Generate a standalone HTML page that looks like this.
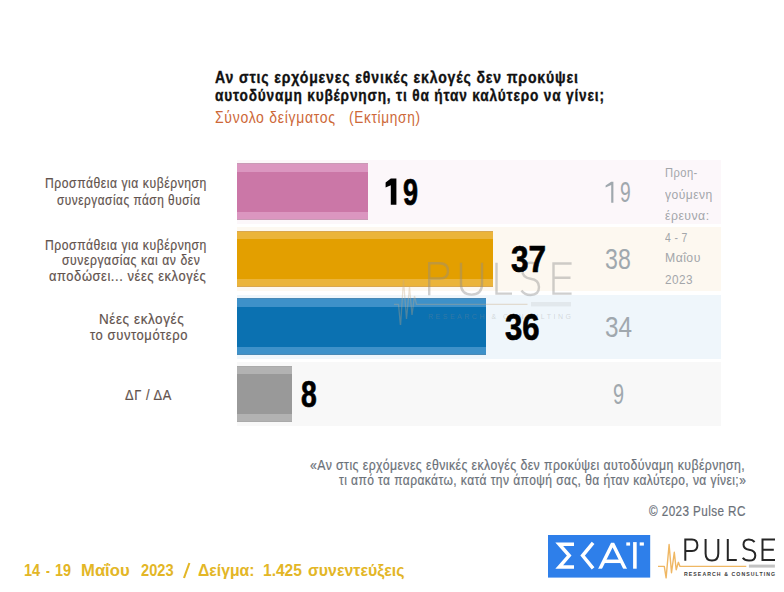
<!DOCTYPE html>
<html><head><meta charset="utf-8"><style>
html,body{margin:0;padding:0;}
body{width:784px;height:592px;position:relative;overflow:hidden;background:#fff;font-family:"Liberation Sans",sans-serif;}
.t{position:absolute;white-space:nowrap;transform-origin:0 0;}
.rowbg{position:absolute;left:237px;width:484px;height:64px;}
.bar{position:absolute;left:237.2px;height:56.5px;box-sizing:border-box;}
</style></head><body>
<div class="rowbg" style="top:159.50px;background:#fcf7fa"></div>
<div class="bar" style="top:163.00px;width:130.8px;background:#db96c0;border-top:1px solid #c99ab6;border-bottom:1.5px solid #c99ab6"><div style="position:absolute;left:0;right:0;top:7.5px;bottom:7px;background:#cb77a7"></div></div>
<div class="rowbg" style="top:227.10px;background:#fdf8f0"></div>
<div class="bar" style="top:230.60px;width:255.8px;background:#ebb43a;border-top:1px solid #d9a74f;border-bottom:1.5px solid #d9a74f"><div style="position:absolute;left:0;right:0;top:7.5px;bottom:7px;background:#e39f00"></div></div>
<div class="rowbg" style="top:294.70px;background:#eff6fb"></div>
<div class="bar" style="top:298.20px;width:248.8px;background:#3e91c9;border-top:1px solid #4a89b5;border-bottom:1.5px solid #4a89b5"><div style="position:absolute;left:0;right:0;top:7.5px;bottom:7px;background:#0b71b1"></div></div>
<div class="rowbg" style="top:362.30px;background:#f8f8f8"></div>
<div class="bar" style="top:365.80px;width:55.2px;background:#b2b2b2;border-top:1px solid #aaaaaa;border-bottom:1.5px solid #aaaaaa"><div style="position:absolute;left:0;right:0;top:7.5px;bottom:7px;background:#999999"></div></div>
<svg style="position:absolute;left:390px;top:255px;" width="190" height="70" viewBox="390 255 190 70">
<g fill="none" stroke="rgba(140,140,140,0.42)" stroke-width="2.4">
<path d="M429.2 295.3 V263.3 H439.5 Q448 263.3 448 271 Q448 278.5 439.5 278.5 H429.2"/>
<path d="M461 262.7 V284 Q461 294.6 471.6 294.6 Q482 294.6 482 284 V262.7"/>
<path d="M496.5 262.7 V293.6 H512"/>
<path d="M538.5 266.5 Q535.5 262.7 530.5 262.7 Q522.3 262.7 522.3 270.5 Q522.3 277.5 530.5 278.8 Q539 280 539 287 Q539 295 530.5 295 Q524.5 295 521.5 290.5"/>
<path d="M571.6 263.5 H553.5 V293.6 H571.6 M553.5 277.8 H570.5"/>
</g>
<path d="M394 304.3 H398.5 L400.5 326 L403.5 280 L406.5 319 L409.5 287 L412 315 L414.5 296 L416.5 304.3 H527.5" fill="none" stroke="rgba(200,170,130,0.35)" stroke-width="1.3"/>
<rect x="531" y="302" width="40" height="4.4" fill="rgba(150,150,150,0.14)"/>
<text x="428" y="319.3" font-family="Liberation Sans" font-size="7" fill="rgba(140,140,140,0.3)" textLength="143" lengthAdjust="spacing">RESEARCH &amp; CONSULTING</text>
</svg>
<div class="t" style="left:215.00px;top:69.27px;font-size:16.5px;line-height:16.5px;font-weight:bold;color:#111;transform:scaleX(0.8521);-webkit-text-stroke:0.35px #111;letter-spacing:1.0px;">Αν στις ερχόμενες εθνικές εκλογές δεν προκύψει</div>
<div class="t" style="left:215.00px;top:87.47px;font-size:16.5px;line-height:16.5px;font-weight:bold;color:#111;transform:scaleX(0.8278);-webkit-text-stroke:0.35px #111;letter-spacing:1.0px;">αυτοδύναμη κυβέρνηση, τι θα ήταν καλύτερο να γίνει;</div>
<div class="t" style="left:215.00px;top:110.00px;font-size:16px;line-height:16px;font-weight:normal;color:#cd6838;transform:scaleX(0.8751);letter-spacing:0.8px;">Σύνολο δείγματος</div>
<div class="t" style="left:349.00px;top:110.00px;font-size:16px;line-height:16px;font-weight:normal;color:#cd6838;transform:scaleX(0.8525);letter-spacing:0.8px;">(Εκτίμηση)</div>
<div class="t" style="left:45.30px;top:175.32px;font-size:15.5px;line-height:15.5px;font-weight:normal;color:#62534e;transform:scaleX(0.7839);-webkit-text-stroke:0.2px #62534e;letter-spacing:0.7px;">Προσπάθεια για κυβέρνηση</div>
<div class="t" style="left:56.80px;top:191.52px;font-size:15.5px;line-height:15.5px;font-weight:normal;color:#62534e;transform:scaleX(0.7619);-webkit-text-stroke:0.2px #62534e;letter-spacing:0.7px;">συνεργασίας πάση θυσία</div>
<div class="t" style="left:45.30px;top:237.02px;font-size:15.5px;line-height:15.5px;font-weight:normal;color:#62534e;transform:scaleX(0.7839);-webkit-text-stroke:0.2px #62534e;letter-spacing:0.7px;">Προσπάθεια για κυβέρνηση</div>
<div class="t" style="left:62.00px;top:252.32px;font-size:15.5px;line-height:15.5px;font-weight:normal;color:#62534e;transform:scaleX(0.7862);-webkit-text-stroke:0.2px #62534e;letter-spacing:0.7px;">συνεργασίας και αν δεν</div>
<div class="t" style="left:49.20px;top:267.82px;font-size:15.5px;line-height:15.5px;font-weight:normal;color:#62534e;transform:scaleX(0.8327);-webkit-text-stroke:0.2px #62534e;letter-spacing:0.7px;">αποδώσει... νέες εκλογές</div>
<div class="t" style="left:98.80px;top:310.82px;font-size:15.5px;line-height:15.5px;font-weight:normal;color:#62534e;transform:scaleX(0.8692);-webkit-text-stroke:0.2px #62534e;letter-spacing:0.7px;">Νέες εκλογές</div>
<div class="t" style="left:90.20px;top:326.62px;font-size:15.5px;line-height:15.5px;font-weight:normal;color:#62534e;transform:scaleX(0.8393);-webkit-text-stroke:0.2px #62534e;letter-spacing:0.7px;">το συντομότερο</div>
<div class="t" style="left:124.90px;top:386.82px;font-size:15.5px;line-height:15.5px;font-weight:normal;color:#62534e;transform:scaleX(0.8284);-webkit-text-stroke:0.2px #62534e;letter-spacing:0.7px;">ΔΓ / ΔΑ</div>
<div class="t" style="left:403.00px;top:173.93px;font-size:37.5px;line-height:37.5px;font-weight:bold;color:#000;transform:scaleX(0.7207);-webkit-text-stroke:0.7px #000;">9</div>
<svg style="position:absolute;left:380px;top:175px" width="20" height="35" viewBox="380 175 20 35"><path d="M390.8 178.6 H396.4 V204.8 H390.8 V185.2 L385.6 187.4 V182.6 Z" fill="#000"/></svg>
<div class="t" style="left:511.00px;top:241.12px;font-size:37.5px;line-height:37.5px;font-weight:bold;color:#000;transform:scaleX(0.8408);-webkit-text-stroke:0.7px #000;">37</div>
<div class="t" style="left:505.00px;top:309.12px;font-size:37.5px;line-height:37.5px;font-weight:bold;color:#000;transform:scaleX(0.8288);-webkit-text-stroke:0.7px #000;">36</div>
<div class="t" style="left:301.30px;top:376.12px;font-size:37.5px;line-height:37.5px;font-weight:bold;color:#000;transform:scaleX(0.7544);-webkit-text-stroke:0.7px #000;">8</div>
<div class="t" style="left:620.00px;top:177.20px;font-size:30px;line-height:30px;font-weight:normal;color:#a0a8ae;transform:scaleX(0.6426);">9</div>
<svg style="position:absolute;left:600px;top:178px" width="18" height="28" viewBox="600 178 18 28"><path d="M611.2 181.8 H613.4 V202.7 H611.2 V185 L605.6 187.6 V185.6 Z" fill="#a0a8ae"/></svg>
<div class="t" style="left:605.00px;top:244.10px;font-size:30px;line-height:30px;font-weight:normal;color:#a0a8ae;transform:scaleX(0.7718);">38</div>
<div class="t" style="left:605.00px;top:312.20px;font-size:30px;line-height:30px;font-weight:normal;color:#a0a8ae;transform:scaleX(0.8108);">34</div>
<div class="t" style="left:613.00px;top:379.10px;font-size:30px;line-height:30px;font-weight:normal;color:#a0a8ae;transform:scaleX(0.6607);">9</div>
<div class="t" style="left:664.70px;top:166.15px;font-size:13px;line-height:13px;font-weight:normal;color:#a3a6aa;transform:scaleX(0.8601);letter-spacing:0.5px;">Προη-</div>
<div class="t" style="left:664.70px;top:188.25px;font-size:13px;line-height:13px;font-weight:normal;color:#a3a6aa;transform:scaleX(0.9304);letter-spacing:0.5px;">γούμενη</div>
<div class="t" style="left:664.70px;top:208.95px;font-size:13px;line-height:13px;font-weight:normal;color:#a3a6aa;transform:scaleX(0.9434);letter-spacing:0.5px;">έρευνα:</div>
<div class="t" style="left:664.70px;top:230.55px;font-size:13px;line-height:13px;font-weight:normal;color:#a3a6aa;transform:scaleX(0.7964);letter-spacing:0.5px;">4 - 7</div>
<div class="t" style="left:664.70px;top:251.15px;font-size:13px;line-height:13px;font-weight:normal;color:#a3a6aa;transform:scaleX(0.9400);letter-spacing:0.5px;">Μαΐου</div>
<div class="t" style="left:664.70px;top:272.95px;font-size:13px;line-height:13px;font-weight:normal;color:#a3a6aa;transform:scaleX(0.9039);letter-spacing:0.5px;">2023</div>
<div class="t" style="left:310.00px;top:457.70px;font-size:14px;line-height:14px;font-weight:normal;color:#6b7179;transform:scaleX(0.8767);-webkit-text-stroke:0.2px #6b7179;letter-spacing:0.5px;">«Αν στις ερχόμενες εθνικές εκλογές δεν προκύψει αυτοδύναμη κυβέρνηση,</div>
<div class="t" style="left:339.20px;top:472.80px;font-size:14px;line-height:14px;font-weight:normal;color:#6b7179;transform:scaleX(0.8590);-webkit-text-stroke:0.2px #6b7179;letter-spacing:0.5px;">τι από τα παρακάτω, κατά την άποψή σας, θα ήταν καλύτερο, να γίνει;»</div>
<div class="t" style="left:649.00px;top:503.80px;font-size:14px;line-height:14px;font-weight:normal;color:#6b7179;transform:scaleX(0.8356);-webkit-text-stroke:0.2px #6b7179;letter-spacing:0.5px;">© 2023 Pulse RC</div>
<svg style="position:absolute;left:180px;top:560px" width="14" height="22" viewBox="180 560 14 22"><path d="M189.4 563 L184 578" stroke="#e3b626" stroke-width="2.1"/></svg>
<div class="t" style="left:24.20px;top:562.04px;font-size:16.3px;line-height:16.3px;font-weight:bold;color:#e3b626;transform:scaleX(0.8898);">14</div>
<div class="t" style="left:45.60px;top:562.04px;font-size:16.3px;line-height:16.3px;font-weight:bold;color:#e3b626;transform:scaleX(0.7142);">-</div>
<div class="t" style="left:55.00px;top:562.04px;font-size:16.3px;line-height:16.3px;font-weight:bold;color:#e3b626;transform:scaleX(0.8843);">19</div>
<div class="t" style="left:80.80px;top:562.04px;font-size:16.3px;line-height:16.3px;font-weight:bold;color:#e3b626;transform:scaleX(1.0232);">Μαΐου</div>
<div class="t" style="left:141.00px;top:562.04px;font-size:16.3px;line-height:16.3px;font-weight:bold;color:#e3b626;transform:scaleX(0.8989);">2023</div>
<div class="t" style="left:198.40px;top:562.04px;font-size:16.3px;line-height:16.3px;font-weight:bold;color:#e3b626;transform:scaleX(0.9686);">Δείγμα:</div>
<div class="t" style="left:263.00px;top:562.04px;font-size:16.3px;line-height:16.3px;font-weight:bold;color:#e3b626;transform:scaleX(0.9551);">1.425</div>
<div class="t" style="left:308.40px;top:562.04px;font-size:16.3px;line-height:16.3px;font-weight:bold;color:#e3b626;transform:scaleX(0.9755);">συνεντεύξεις</div>
<svg style="position:absolute;left:548.4px;top:535.2px" width="102.2" height="42.6" viewBox="548.4 535.2 102.2 42.6">
<rect x="548.4" y="535.2" width="102.2" height="42.6" fill="#2e7fea"/>
<g fill="none" stroke="#fff" stroke-width="3.5">
<path d="M574.4 544.4 H559.6 L569.6 555.8 L559.6 567.2 H574.4" stroke-linejoin="miter" stroke-miterlimit="10"/>
<path d="M593.5 543 L583 555.8 L593.5 568.6"/>
<path d="M600 570 L613 543.6 L626 570" stroke-linejoin="bevel"/><path d="M604.6 561.5 H621.4"/>
<path d="M635.3 542.3 V568.9" stroke-width="3.6"/>
</g>
<rect x="596" y="568.9" width="34" height="4" fill="#2e7fea"/>
<rect x="626.7" y="542.6" width="3.8" height="3.2" fill="#fff"/>
<rect x="640.1" y="542.6" width="4.2" height="3.2" fill="#fff"/>
</svg>
<svg style="position:absolute;left:655px;top:530px" width="129" height="55" viewBox="655 530 129 55">
<g fill="none" stroke="#262626" stroke-width="2.0">
<path d="M685.3 560.8 V539.5 H692 Q697.4 539.5 697.4 545.2 Q697.4 550.9 692 550.9 H685.3"/>
<path d="M705.6 539 V553.5 Q705.6 560.5 712 560.5 Q718.3 560.5 718.3 553.5 V539"/>
<path d="M727.8 539 V559.9 H736.8"/>
<path d="M754.6 542 Q752.5 539.5 748.8 539.5 Q743.5 539.5 743.5 544.6 Q743.5 549 749 549.8 Q755.3 550.7 755.3 555.4 Q755.3 560.6 749 560.6 Q744.6 560.6 742.8 557.8"/>
<path d="M775 539.5 H762.5 V559.9 H775 M762.5 549.7 H773.8"/>
</g>
<path d="M658 566.4 H664.3 L666.1 577.9 L669.1 544.5 L671.5 572.7 L674.3 552.3 L676.2 569.7 L678.4 562.3 L680 566.4 H746.3" fill="none" stroke="#efb763" stroke-width="1.4" stroke-linejoin="round"/>
<rect x="748.9" y="564.6" width="26" height="3" fill="#c2c2c2"/>
<text x="684" y="576" font-family="Liberation Sans" font-weight="bold" font-size="5.2" fill="#3a3a3a" textLength="91" lengthAdjust="spacing">RESEARCH &amp; CONSULTING</text>
</svg>
</body></html>
